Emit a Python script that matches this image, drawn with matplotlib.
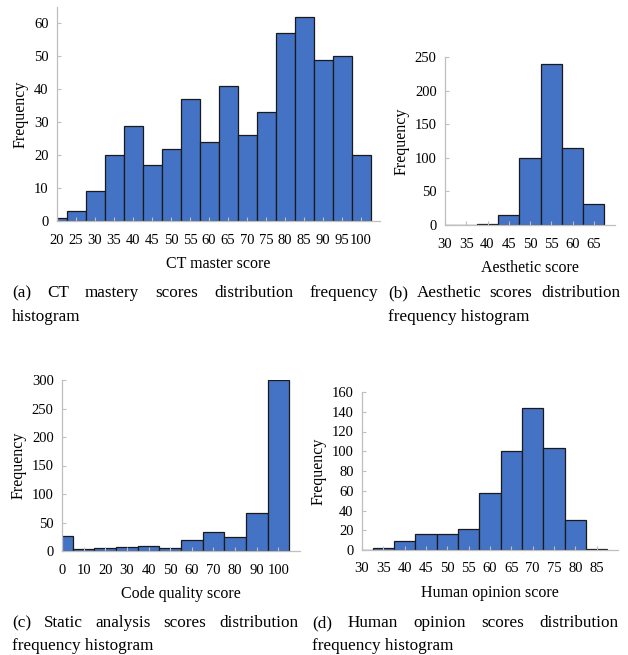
import numpy as np
import matplotlib
matplotlib.use("Agg")
import matplotlib.pyplot as plt

plt.rcParams['font.family'] = ['Liberation Serif', 'DejaVu Serif']

# panel (a) CT mastery
ct_bins = [20, 25, 30, 35, 40, 45, 50, 55, 60, 65, 70, 75, 80, 85, 90, 95, 100]
ct_freq = [1, 3, 9, 20, 29, 17, 22, 37, 24, 41, 26, 33, 57, 62, 49, 50, 20]

# panel (b) aesthetic
aes_bins = [30, 35, 40, 45, 50, 55, 60, 65]
aes_freq = [0, 0, 1, 15, 99, 240, 114, 31]

# panel (c) static analysis
code_bins = [0, 10, 20, 30, 40, 50, 60, 70, 80, 90, 100]
code_freq = [26, 4, 6, 7, 8, 6, 19, 33, 25, 66, 300]

# panel (d) human opinion
hum_bins = [30, 35, 40, 45, 50, 55, 60, 65, 70, 75, 80, 85]
hum_freq = [0, 2, 9, 16, 16, 21, 58, 100, 144, 103, 30, 1]

W, H = 628, 655
BAR = '#4472C4'
AX = '#bfbfbf'

fig = plt.figure(figsize=(W / 100, H / 100), dpi=100)


def px_axes(l, t, r, b):
    return fig.add_axes([l / W, 1 - b / H, (r - l) / W, (b - t) / H])


def hist_panel(ax, bins, freq, width, xlim, ylim, ystep, xlabel):
    ax.bar(bins, freq, width=width, color=BAR, edgecolor='#1a1a1a', linewidth=0.9)
    ax.set_xlim(*xlim)
    ax.set_ylim(*ylim)
    ax.set_xticks(bins)
    ax.set_yticks(np.arange(0, ylim[1] + 1, ystep))
    for s in ['top', 'right']:
        ax.spines[s].set_visible(False)
    for s in ['left', 'bottom']:
        ax.spines[s].set_color(AX)
        ax.spines[s].set_linewidth(0.9)
    ax.tick_params(direction='in', length=3, color=AX, labelsize=10.5)
    ax.tick_params(axis='x', pad=9)
    ax.tick_params(axis='y', pad=6)
    ax.set_xlabel(xlabel, fontsize=11.5, labelpad=7)
    ax.set_ylabel('Frequency', fontsize=11.5, labelpad=4)


ax_a = px_axes(57, 7, 380, 221)
hist_panel(ax_a, ct_bins, ct_freq, 5, (20, 105), (0, 65), 10, 'CT master score')

ax_b = px_axes(445, 57, 615, 225)
hist_panel(ax_b, aes_bins, aes_freq, 5, (30, 70), (0, 250), 50, 'Aesthetic score')

ax_c = px_axes(62, 380, 300, 551)
hist_panel(ax_c, code_bins, code_freq, 10, (0, 110), (0, 300), 50, 'Code quality score')

ax_d = px_axes(362, 392, 618, 550)
hist_panel(ax_d, hum_bins, hum_freq, 5, (30, 90), (0, 160), 20, 'Human opinion score')

renderer = fig.canvas.get_renderer()


def justify(text, x0, x1, y, size=12.3):
    words = text.split()
    objs = [fig.text(0, 1 - y / H, w, fontsize=size, va='center', ha='left') for w in words]
    widths = [o.get_window_extent(renderer).width for o in objs]
    gap = (x1 - x0 - sum(widths)) / max(len(words) - 1, 1)
    x = x0
    for o, w in zip(objs, widths):
        o.set_x(x / W)
        x += w + gap


def caption(text, x, y, size=12.3):
    fig.text(x / W, 1 - y / H, text, fontsize=size, va='center', ha='left')


justify('(a) CT mastery scores distribution frequency', 12, 378, 293)
caption('histogram', 12, 317)
justify('(b) Aesthetic scores distribution', 388, 620, 293)
caption('frequency histogram', 388, 317)
justify('(c) Static analysis scores distribution', 12, 298, 623)
caption('frequency histogram', 12, 646)
justify('(d) Human opinion scores distribution', 312, 618, 623)
caption('frequency histogram', 312, 646)

fig.savefig('out.png', dpi=100)
